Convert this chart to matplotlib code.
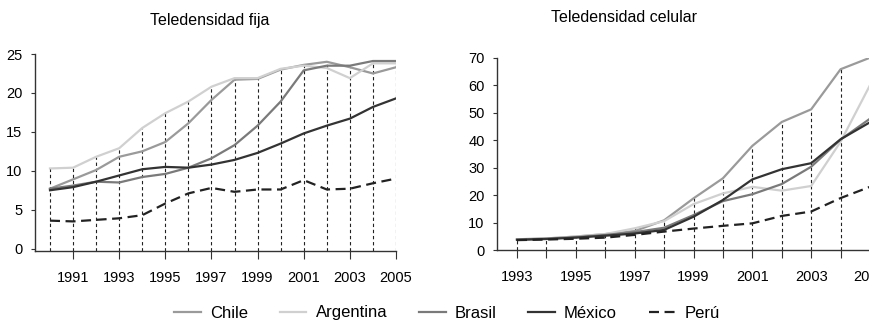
import numpy as np
import matplotlib.pyplot as plt

plt.rcParams['font.family'] = ['Liberation Sans', 'DejaVu Sans']

# Teledensidad fija 1990-2005
years_fija = list(range(1990, 2006))
chile_fija = [7.7, 8.9, 10.1, 11.8, 12.5, 13.7, 16.1, 19.1, 21.7, 21.8, 23.0, 23.6, 24.0, 23.3, 22.5, 23.3]
argentina_fija = [10.3, 10.4, 11.8, 12.9, 15.5, 17.4, 18.9, 20.8, 21.9, 21.9, 23.1, 23.5, 23.2, 21.9, 23.8, 23.8]
brasil_fija = [7.7, 8.1, 8.6, 8.5, 9.2, 9.6, 10.4, 11.6, 13.3, 15.8, 18.9, 22.9, 23.5, 23.5, 24.1, 24.1]
mexico_fija = [7.5, 7.9, 8.6, 9.4, 10.2, 10.5, 10.4, 10.8, 11.4, 12.3, 13.5, 14.8, 15.8, 16.7, 18.2, 19.3]
peru_fija = [3.6, 3.5, 3.7, 3.9, 4.3, 5.8, 7.1, 7.8, 7.3, 7.6, 7.6, 8.8, 7.6, 7.7, 8.4, 9.0]

# Teledensidad celular 1993-2005
years_cel = list(range(1993, 2006))
chile_cel = [3.9, 4.2, 4.9, 5.8, 6.9, 10.8, 18.8, 26.1, 37.9, 46.6, 51.2, 65.8, 70.0]
argentina_cel = [3.9, 4.2, 4.9, 5.8, 7.9, 10.5, 16.7, 20.6, 23.0, 21.6, 23.3, 39.4, 60.0]
brasil_cel = [3.8, 4.1, 4.7, 5.5, 6.5, 8.1, 12.7, 17.8, 20.3, 24.0, 30.3, 40.2, 47.8]
mexico_cel = [3.7, 4.0, 4.5, 5.2, 6.0, 7.3, 12.1, 18.2, 25.7, 29.4, 31.6, 40.3, 46.5]
peru_cel = [3.6, 3.8, 4.1, 4.5, 5.5, 6.7, 7.8, 8.8, 9.7, 12.4, 14.0, 18.9, 23.0]

names = ['Chile', 'Argentina', 'Brasil', 'México', 'Perú']
colors = ['#9a9a9a', '#d0d0d0', '#7a7a7a', '#333333', '#222222']

fig = plt.figure(figsize=(8.69, 3.25), dpi=100)
ax1 = fig.add_axes([35 / 869, 74 / 325, 361 / 869, 197 / 325])
ax2 = fig.add_axes([497 / 869, 75 / 325, 373 / 869, 192.3 / 325])


def draw(ax, years, series, ybottom):
    tops = np.max(np.array(series), axis=0)
    ax.vlines(years, ybottom, tops, colors='#222222', linestyles=(0, (3, 2.5)),
              linewidth=0.8, zorder=1)
    for vals, c, name in zip(series, colors, names):
        if name == 'Perú':
            ax.plot(years, vals, color=c, lw=1.6, dashes=(4.5, 2.5), label=name, zorder=3)
        else:
            ax.plot(years, vals, color=c, lw=1.6, label=name, zorder=2)
    for s in ['top', 'right']:
        ax.spines[s].set_visible(False)
    for s in ['left', 'bottom']:
        ax.spines[s].set_color('#333333')
        ax.spines[s].set_linewidth(1.0)
    ax.tick_params(axis='y', direction='out', length=3, width=0.8, color='#333333',
                   labelsize=10.5, pad=6)
    ax.tick_params(axis='x', direction='out', length=5.5, width=0.8, color='#333333',
                   labelsize=10.5, pad=9)


draw(ax1, years_fija, [chile_fija, argentina_fija, brasil_fija, mexico_fija, peru_fija], -0.3)
ax1.set_xlim(1989.35, 2005)
ax1.set_ylim(-0.3, 25)
ax1.set_yticks([0, 5, 10, 15, 20, 25])
ax1.set_xticks(range(1991, 2006, 2))

draw(ax2, years_cel, [chile_cel, argentina_cel, brasil_cel, mexico_cel, peru_cel], 0)
ax2.set_xlim(1992.32, 2005)
ax2.set_ylim(0, 70)
ax2.set_yticks(range(0, 80, 10))
ax2.set_xticks(range(1993, 2006, 2))
ax2.set_xticks(range(1994, 2006, 2), minor=True)
ax2.tick_params(axis='x', which='minor', direction='out', length=5.5, width=0.8, color='#333333')

fig.text(210 / 869, 1 - 20 / 325, 'Teledensidad fija', ha='center', va='center', fontsize=11.5)
fig.text(624 / 869, 1 - 17 / 325, 'Teledensidad celular', ha='center', va='center', fontsize=11.5)

handles, labels = ax1.get_legend_handles_labels()
fig.legend(handles, labels, loc='center', bbox_to_anchor=(447 / 869, 12 / 325), ncol=5,
           frameon=False, fontsize=12, handlelength=1.6, handletextpad=0.55,
           columnspacing=1.9)

fig.savefig('out.png', dpi=100)
